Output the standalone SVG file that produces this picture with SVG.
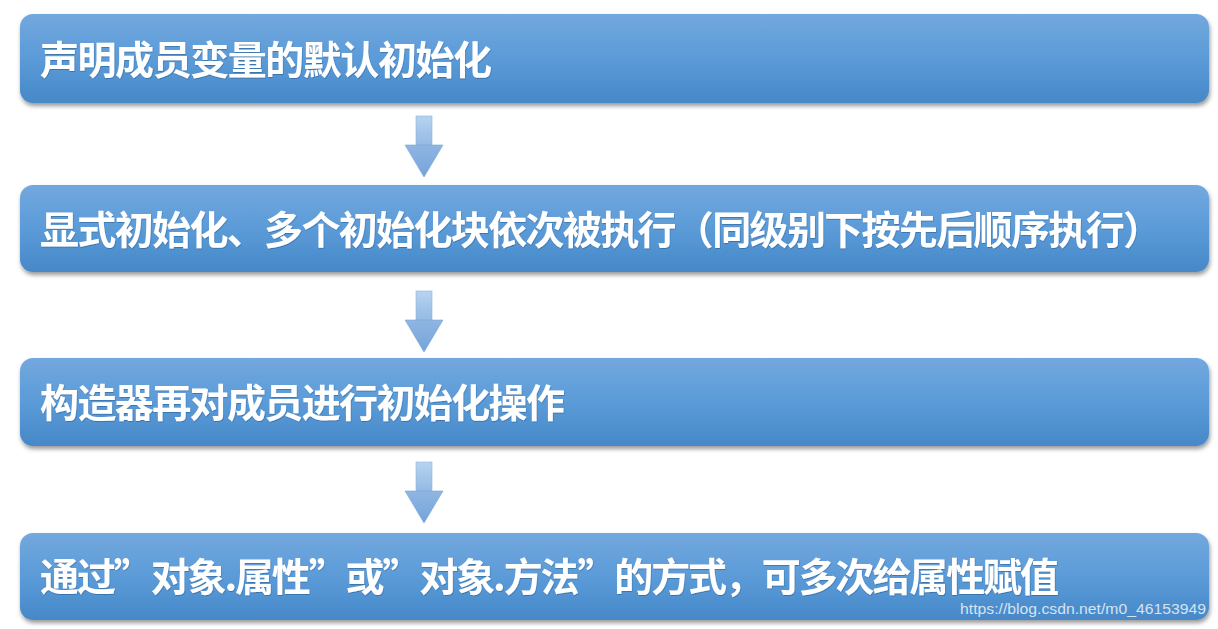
<svg xmlns="http://www.w3.org/2000/svg" width="1218" height="629" viewBox="0 0 1218 629">
  <defs>
    <linearGradient id="boxGrad" x1="0" y1="0" x2="0" y2="1">
      <stop offset="0" stop-color="#73a8de"/>
      <stop offset="0.5" stop-color="#5b9bd8"/>
      <stop offset="1" stop-color="#4688c8"/>
    </linearGradient>
    <linearGradient id="shaftGrad" x1="0" y1="0" x2="0" y2="1">
      <stop offset="0" stop-color="#b7d3f0"/>
      <stop offset="1" stop-color="#93b9e4"/>
    </linearGradient>
    <linearGradient id="headGrad" x1="0" y1="0" x2="0" y2="1">
      <stop offset="0" stop-color="#8fb6e2"/>
      <stop offset="1" stop-color="#75a3d9"/>
    </linearGradient>
    <filter id="shadow" x="-5%" y="-20%" width="110%" height="150%">
      <feDropShadow dx="1" dy="3" stdDeviation="2" flood-color="#000" flood-opacity="0.4"/>
    </filter>
    <filter id="tshadow" x="-5%" y="-20%" width="110%" height="150%">
      <feDropShadow dx="0.5" dy="1" stdDeviation="0.6" flood-color="#1f4f80" flood-opacity="0.45"/>
    </filter>
    <g id="arrow">
      <rect x="-8" y="0" width="16" height="30" fill="url(#shaftGrad)" stroke="#8fb3dc" stroke-width="0.6"/>
      <path d="M -19 29 L 19 29 L 0 61 Z" fill="url(#headGrad)" stroke="#7aa5d6" stroke-width="0.6"/>
    </g>
  </defs>
  <style>
    .box { fill: url(#boxGrad); filter: url(#shadow); }
    .label { font-family: "Noto Sans CJK SC", "Microsoft YaHei", sans-serif; font-weight: 700; font-size: 39px; fill: #ffffff; filter: url(#tshadow); }
    .wm { font-family: "Liberation Sans", Arial, sans-serif; font-size: 14px; fill: #d6e2f0; }
  </style>
  <rect width="1218" height="629" fill="#ffffff"/>

  <g id="connectors">
    <use href="#arrow" x="424" y="116"/>
    <use href="#arrow" x="424" y="291"/>
    <use href="#arrow" x="424" y="462"/>
  </g>

  <g id="node1">
    <rect class="box" x="20" y="14" width="1189" height="89" rx="13"/>
    <text class="label" x="40" y="74" textLength="452" lengthAdjust="spacing">声明成员变量的默认初始化</text>
  </g>
  <g id="node2">
    <rect class="box" x="20" y="185" width="1189" height="87" rx="13"/>
    <text class="label" x="40" y="244" textLength="1122" lengthAdjust="spacing">显式初始化、多个初始化块依次被执行（同级别下按先后顺序执行）</text>
  </g>
  <g id="node3">
    <rect class="box" x="20" y="358" width="1189" height="88" rx="13"/>
    <text class="label" x="40" y="417" textLength="525" lengthAdjust="spacing">构造器再对成员进行初始化操作</text>
  </g>
  <g id="node4">
    <rect class="box" x="20" y="533" width="1189" height="87" rx="13"/>
    <text class="label" x="40" y="591" textLength="1019" lengthAdjust="spacing">通过”对象.属性”或”对象.方法”的方式，可多次给属性赋值</text>
  </g>

  <text class="wm" x="960" y="614" textLength="246" lengthAdjust="spacingAndGlyphs">https://blog.csdn.net/m0_46153949</text>
</svg>
